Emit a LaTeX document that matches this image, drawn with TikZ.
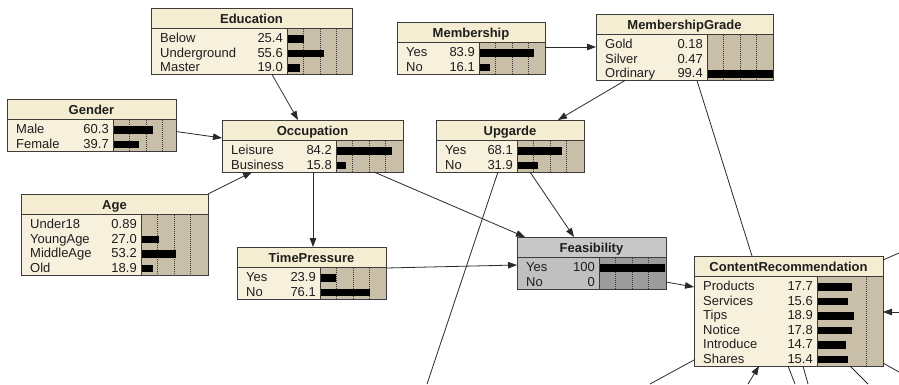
\documentclass[tikz,border=0pt]{standalone}
\usepackage{fontspec}
\setmainfont{Liberation Sans}
\usetikzlibrary{arrows.meta,calc}
\definecolor{framec}{HTML}{3C3C3C}
\definecolor{txtc}{HTML}{1E1E1E}
\definecolor{linec}{HTML}{2A2A2A}
\colorlet{bnttl}{white}
\definecolor{bnttl}{HTML}{F5EDD2}
\definecolor{bndata}{HTML}{F6F0DC}
\definecolor{bnbar}{HTML}{C9BFA9}
\tikzset{
  bnframe/.style={draw=framec, line width=0.9pt, inner sep=0pt, outer sep=0pt},
  bnline/.style={draw=framec, line width=0.7pt},
  bndot/.style={draw=framec, line width=0.6pt, dash pattern=on 1pt off 1pt},
  bntext/.style={inner sep=0pt, font=\fontsize{13}{15}\selectfont, text=txtc},
  bntitle/.style={inner sep=0pt, font=\fontsize{13}{15}\selectfont\bfseries, text=txtc},
  link/.style={draw=linec, line width=0.8pt},
  arr/.style={link, -{Triangle[length=9pt,width=6.5pt]}},
}
% #1 name, #2 x, #3 y, #4 width, #5 text width, #6 rows, #7 title, #8 rows list, #9 bar scale
\newcommand\bnbox[9]{%
  \pgfmathsetmacro\bnH{23+14.5*#6}%
  \pgfmathsetmacro\bnB{#4-#5}%
  \fill[bnttl] (#2,#3) rectangle ++(#4,20.5);
  \fill[bndata] (#2,#3+20.5) rectangle (#2+#5,#3+\bnH);
  \fill[bnbar] (#2+#5,#3+20.5) rectangle (#2+#4,#3+\bnH);
  \foreach \f in {0.25,0.5,0.75}{%
    \pgfmathsetmacro\bnd{\f*#9}%
    \pgfmathtruncatemacro\bnok{\bnd<\bnB-1}%
    \ifnum\bnok=1 \draw[bndot] (#2+#5+\bnd,#3+20.5) -- (#2+#5+\bnd,#3+\bnH);\fi
  }
  \foreach \lab/\val [count=\i from 0] in {#8}{%
    \pgfmathsetmacro\bny{#3+20.5+14+14.5*\i}%
    \node[bntext,anchor=base west] at (#2+9,\bny) {\lab};
    \node[bntext,anchor=base east] at (#2+#5-4,\bny) {\val};
    \pgfmathsetmacro\bnl{\val*#9/100}%
    \pgfmathtruncatemacro\bnv{\bnl>=1}%
    \ifnum\bnv=1 \fill[black] (#2+#5,\bny-7.5) rectangle ++(\bnl,7.5);\fi
  }
  \draw[bnline] (#2,#3+20.5) -- ++(#4,0);
  \draw[bnline] (#2+#5,#3+20.5) -- (#2+#5,#3+\bnH);
  \node[bntitle,anchor=base] at (#2+#4/2,#3+15.5) {#7};
  \node[bnframe, minimum width=#4pt, minimum height=\bnH pt, anchor=north west] (#1) at (#2,#3) {};
}
\begin{document}
\begin{tikzpicture}[x=1pt,y=-1pt]
\fill[white] (0,0) rectangle (899,384);
\useasboundingbox (0,0) rectangle (899,384);

\bnbox{edu}{151}{8}{201}{136}{3}{Education}{Below/25.4,Underground/55.6,Master/19.0}{66}
\bnbox{gen}{7}{99}{169}{106}{2}{Gender}{Male/60.3,Female/39.7}{66}
\bnbox{occ}{222}{120}{181}{114}{2}{Occupation}{Leisure/84.2,Business/15.8}{66}
\bnbox{age}{21}{194}{187}{120}{4}{Age}{Under18/0.89,YoungAge/27.0,MiddleAge/53.2,Old/18.9}{66}
\bnbox{tp}{237}{247}{149}{83}{2}{TimePressure}{Yes/23.9,No/76.1}{66}
\bnbox{mem}{397}{22}{148}{82}{2}{Membership}{Yes/83.9,No/16.1}{66}
\bnbox{mg}{596}{14}{177}{111}{3}{MembershipGrade}{Gold/0.18,Silver/0.47,Ordinary/99.4}{66}
\bnbox{upg}{436}{120}{148}{81}{2}{Upgarde}{Yes/68.1,No/31.9}{66}
\begin{scope}
  \definecolor{bnttl}{HTML}{C8C8C8}
  \definecolor{bndata}{HTML}{C0C0C0}
  \definecolor{bnbar}{HTML}{9C9C9C}
  \bnbox{fea}{517}{237}{149}{82}{2}{Feasibility}{Yes/100,No/0}{66}
\end{scope}
\bnbox{cr}{694}{256}{189}{123}{6}{ContentRecommendation}{Products/17.7,Services/15.6,Tips/18.9,Notice/17.8,Introduce/14.7,Shares/15.4}{198}

% free ends beyond the picture edge
\coordinate (o1) at (427,384);
\coordinate (o2) at (899,253);
\coordinate (o3) at (899,312);
\coordinate (o4) at (899,372);
\coordinate (o5) at (650,384);
\coordinate (o6) at (748,384);
\coordinate (o7) at (795,384);
\coordinate (o8) at (808,384);
\coordinate (o9) at (868,384);

% connectors
\draw[arr] ($(edu.south west)+(121,0)$) -- ($(occ.north west)+(76,0)$);
\draw[arr] ($(gen.north east)+(0,32.5)$) -- ($(occ.north west)+(0,18)$);
\draw[arr] (age.north east) -- ($(occ.south west)+(30,0)$);
\draw[arr] ($(occ.south west)+(91,0)$) -- ($(tp.north west)+(76,0)$);
\draw[arr] ($(occ.south west)+(152,0)$) -- ($(fea.north west)+(8,0)$);
\draw[arr] ($(tp.north east)+(0,21)$) -- ($(fea.north west)+(0,28)$);
\draw[arr] ($(mem.north east)+(0,25)$) -- ($(mg.north west)+(0,33)$);
\draw[arr] ($(mg.south west)+(29,0)$) -- ($(upg.north west)+(122,0)$);
\draw[arr] ($(upg.south west)+(94,0)$) -- ($(fea.north west)+(57,0)$);
\draw[link] ($(upg.south west)+(62,0)$) -- (o1);
\draw[link] ($(mg.south west)+(101,0)$) -- ($(cr.north west)+(58,0)$);
\draw[arr] ($(fea.north east)+(0,45)$) -- ($(cr.north west)+(0,31)$);
\draw[link] ($(cr.north east)+(0,4)$) -- (o2);
\draw[arr] (o3) -- ($(cr.north east)+(0,56)$);
\draw[link] ($(cr.north east)+(0,107)$) -- (o4);
\draw[link] ($(cr.north west)+(0,104)$) -- (o5);
\draw[arr] (o6) -- ($(cr.south west)+(65,0)$);
\draw[link] ($(cr.south west)+(94,0)$) -- (o7);
\draw[link] ($(cr.south west)+(109,0)$) -- (o8);
\draw[link] ($(cr.south west)+(156,0)$) -- (o9);
\end{tikzpicture}
\end{document}
